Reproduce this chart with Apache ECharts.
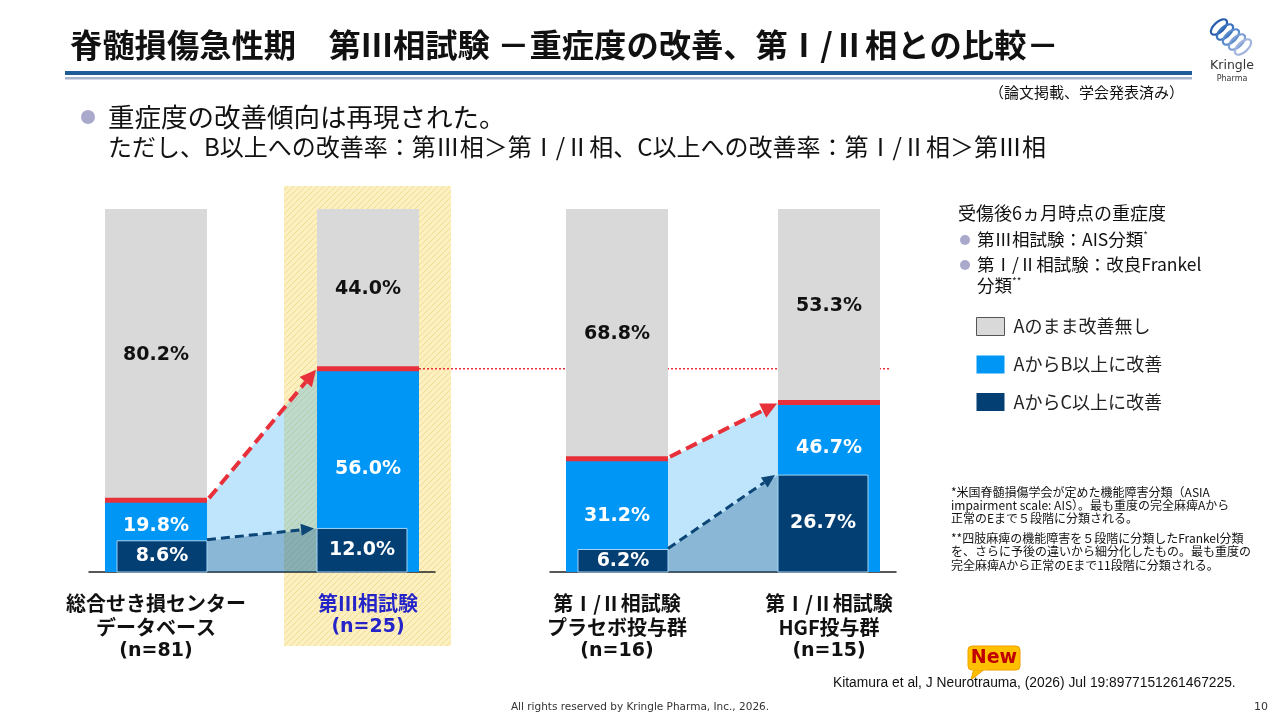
<!DOCTYPE html>
<html>
<head>
<meta charset="UTF-8">
<title>脊髄損傷急性期 第Ⅲ相試験 重症度の改善</title>
<style>
    html, body { margin: 0; padding: 0; background: #fff; }
    #container { width: 1280px; height: 720px; }
</style>
</head>
<body>
<div id="container"></div>
<script src="https://cdn.jsdelivr.net/npm/echarts@6/dist/echarts.min.js"></script>
<script type="text/javascript">
    // データ
    var categories = ['総合せき損センター\nデータベース\n(n=81)', '第Ⅲ相試験\n(n=25)', '第Ⅰ/Ⅱ相試験\nプラセボ投与群\n(n=16)', '第Ⅰ/Ⅱ相試験\nHGF投与群\n(n=15)'];
    var noImprove = [80.2, 44.0, 68.8, 53.3]; // Aのまま改善無し
    var improveB = [19.8, 56.0, 31.2, 46.7];  // AからB以上に改善
    var improveC = [8.6, 12.0, 6.2, 26.7];    // AからC以上に改善
    var legendNames = ['Aのまま改善無し', 'AからB以上に改善', 'AからC以上に改善'];
    var groups = [[0, 1], [2, 3]];
    var highlightIndex = 1;

    var JP = "'Noto Sans CJK JP', sans-serif";
    var NUM = "'DejaVu Sans', 'Noto Sans CJK JP', sans-serif";
    var GRAY = '#d9d9d9', BLUE = '#0096f5', NAVY = '#033f73', RED = '#e8303a';
    var BAR_W = 102, NAVY_W = 90;
    var X_MIN = -0.316, X_MAX = 1.316;

    function pct(v) { return v.toFixed(1) + '%'; }

    // 黄色の斜線パターン
    var hatch = document.createElement('canvas');
    hatch.width = 6; hatch.height = 6;
    var hc = hatch.getContext('2d');
    hc.fillStyle = '#fdf0c0'; hc.fillRect(0, 0, 6, 6);
    hc.strokeStyle = '#f2dc94'; hc.lineWidth = 1;
    hc.beginPath();
    hc.moveTo(0, 6); hc.lineTo(6, 0);
    hc.moveTo(-1, 1); hc.lineTo(1, -1);
    hc.moveTo(5, 7); hc.lineTo(7, 5);
    hc.stroke();

    function arrow(p0, p1, color, width, dash, headLen, headW) {
        var dx = p1[0] - p0[0], dy = p1[1] - p0[1];
        var len = Math.sqrt(dx * dx + dy * dy);
        var ux = dx / len, uy = dy / len;
        var bx = p1[0] - ux * headLen, by = p1[1] - uy * headLen;
        return [
            { type: 'line', shape: { x1: p0[0], y1: p0[1], x2: bx, y2: by },
              style: { stroke: color, lineWidth: width, lineDash: dash } },
            { type: 'polygon', shape: { points: [[p1[0], p1[1]], [bx - uy * headW, by + ux * headW], [bx + uy * headW, by - ux * headW]] },
              style: { fill: color } }
        ];
    }

    // 棒の間の面と矢印
    function renderBridge(params, api) {
        var b0 = api.value(1), c0 = api.value(2), b1 = api.value(3), c1 = api.value(4);
        var base0 = api.coord([0, 0]), base1 = api.coord([1, 0]);
        var x0 = base0[0] + BAR_W / 2, x1 = base1[0] - BAR_W / 2, y0 = base0[1];
        var yb0 = api.coord([0, b0])[1], yb1 = api.coord([1, b1])[1];
        var yc0 = api.coord([0, c0])[1], yc1 = api.coord([1, c1])[1];
        var children = [
            { type: 'polygon', shape: { points: [[x0, yb0], [x1, yb1], [x1, y0], [x0, y0]] },
              style: { fill: 'rgba(0,150,245,0.25)' } },
            { type: 'polygon', shape: { points: [[x0, yc0], [x1, yc1], [x1, y0], [x0, y0]] },
              style: { fill: 'rgba(0,63,114,0.28)' } }
        ];
        children = children.concat(arrow([x0 + 2, yb0 - 2], [x1 - 1, yb1 + 1], RED, 4, [12, 6], 16, 8));
        children = children.concat(arrow([x0, yc0 - 1], [x1 - 3, yc1], '#0b4677', 3, [9, 5], 13, 6));
        return { type: 'group', children: children };
    }

    // C以上の棒・赤線・数値
    function renderNavy(params, api) {
        var x = api.value(0), c = api.value(1), b = api.value(2), n = api.value(3);
        var base = api.coord([x, 0]), cTop = api.coord([x, c]), bTop = api.coord([x, b]);
        var grayMid = api.coord([x, b + n / 2]);
        var left = x === 0 ? base[0] + BAR_W / 2 - NAVY_W : base[0] - BAR_W / 2;
        var blueLabelY = bTop[1] + 0.63 * (cTop[1] - bTop[1]);
        var font = { fontSize: 19, fontWeight: 'bold', fontFamily: NUM, align: 'center', verticalAlign: 'middle' };
        function label(px, py, text, color) {
            return { type: 'text', x: px, y: py, style: echarts.util.extend({ text: text, fill: color }, font) };
        }
        return { type: 'group', children: [
            { type: 'rect', shape: { x: base[0] - BAR_W / 2, y: bTop[1] - 2.5, width: BAR_W, height: 5 },
              style: { fill: RED } },
            { type: 'rect', shape: { x: left, y: cTop[1], width: NAVY_W, height: base[1] - cTop[1] },
              style: { fill: NAVY, stroke: '#a3d6f7', lineWidth: 1 } },
            label(left + NAVY_W / 2, (cTop[1] + base[1]) / 2, pct(c), '#fff'),
            label(base[0], blueLabelY, pct(b), '#fff'),
            label(grayMid[0], grayMid[1], pct(n), '#111')
        ] };
    }

    function renderHighlight(params, api) {
        var top = api.coord([api.value(0), 100]), base = api.coord([api.value(0), 0]);
        return { type: 'rect', shape: { x: top[0] - 84, y: top[1] - 23, width: 167, height: base[1] - top[1] + 97 },
                 style: { fill: { image: hatch, repeat: 'repeat' } } };
    }

    var labelRich = {
        t: { color: '#111', fontSize: 20, fontWeight: 'bold', lineHeight: 24, fontFamily: JP },
        n: { color: '#111', fontSize: 19, fontWeight: 'bold', lineHeight: 24, fontFamily: NUM },
        ht: { color: '#2424c8', fontSize: 20, fontWeight: 'bold', lineHeight: 24, fontFamily: JP },
        hn: { color: '#2424c8', fontSize: 19, fontWeight: 'bold', lineHeight: 24, fontFamily: NUM }
    };

    var grid = [], xAxis = [], yAxis = [], series = [];
    groups.forEach(function (g, gi) {
        grid.push({ left: gi === 0 ? 89 : 550, top: 209, width: 346, height: 363 });
        xAxis.push({
            type: 'value', gridIndex: gi, min: X_MIN, max: X_MAX,
            axisLine: { show: true, lineStyle: { color: '#222', width: 1.5 } },
            axisTick: { show: false }, splitLine: { show: false },
            axisLabel: {
                customValues: [0, 1], margin: 19,
                fontSize: 20, fontWeight: 'bold', color: '#111', lineHeight: 24, fontFamily: JP,
                formatter: function (v) {
                    var idx = g[Math.round(v)];
                    var pre = idx === highlightIndex ? 'h' : '';
                    var lines = categories[idx].split('\n');
                    return lines.map(function (s, li) {
                        return '{' + pre + (li === lines.length - 1 ? 'n' : 't') + '|' + s + '}';
                    }).join('\n');
                },
                rich: labelRich
            }
        });
        yAxis.push({ type: 'value', gridIndex: gi, min: 0, max: 100, show: false });

        // 灰色の棒は B以上 + 改善無し の上端まで
        series.push({
            name: legendNames[0], type: 'bar', xAxisIndex: gi, yAxisIndex: gi,
            barWidth: BAR_W, barGap: '-100%', itemStyle: { color: GRAY }, z: 2,
            data: g.map(function (i, k) { return [k, improveB[i] + noImprove[i]]; })
        });
        series.push({
            name: legendNames[1], type: 'bar', xAxisIndex: gi, yAxisIndex: gi,
            barWidth: BAR_W, barGap: '-100%', itemStyle: { color: BLUE }, z: 3,
            data: g.map(function (i, k) { return [k, improveB[i]]; })
        });
        series.push({
            type: 'custom', xAxisIndex: gi, yAxisIndex: gi, z: 4, silent: true,
            renderItem: renderBridge,
            data: [[0, improveB[g[0]], improveC[g[0]], improveB[g[1]], improveC[g[1]]]]
        });
        series.push({
            name: legendNames[2], type: 'custom', xAxisIndex: gi, yAxisIndex: gi, z: 5,
            itemStyle: { color: NAVY }, renderItem: renderNavy,
            data: g.map(function (i, k) { return [k, improveC[i], improveB[i], noImprove[i]]; })
        });
        var h = g.indexOf(highlightIndex);
        if (h >= 0) {
            series.push({
                type: 'custom', xAxisIndex: gi, yAxisIndex: gi, z: 0, silent: true,
                renderItem: renderHighlight, data: [[h]]
            });
        }
    });

    var myChart = echarts.init(document.getElementById('container'));
    myChart.setOption({
        animation: false,
        grid: grid, xAxis: xAxis, yAxis: yAxis, series: series,
        legend: {
            orient: 'vertical', left: 971, top: 312, itemWidth: 28, itemHeight: 18, itemGap: 19.5,
            icon: 'rect', selectedMode: false,
            data: [{ name: legendNames[0], itemStyle: { borderColor: '#555', borderWidth: 1 } }, legendNames[1], legendNames[2]],
            textStyle: { fontFamily: JP, fontSize: 18, color: '#222', padding: [0, 0, 0, 4] }
        }
    });

    // 第Ⅲ相のB以上の高さを示す点線
    var lineFrom = myChart.convertToPixel({ gridIndex: 0 }, [1, improveB[highlightIndex]]);
    var lineTo = myChart.convertToPixel({ gridIndex: 1 }, [1, improveB[highlightIndex]]);

    function txt(x, y, text, size, opts) {
        opts = opts || {};
        return { type: 'text', x: x, y: y, z: 10, style: {
            text: text, fontSize: size, fontFamily: opts.family || JP, fontWeight: opts.weight || 'normal',
            fill: opts.color || '#111', align: opts.align || 'left', verticalAlign: 'middle', rich: opts.rich
        } };
    }

    var sup = { sup: { fontSize: 10, verticalAlign: 'top', fontFamily: JP, fill: '#222', padding: [0, 0, 8, 0] } };
    var logoColors = ['#2a5fae', '#3a74be', '#5a8bcb', '#7d9fd5', '#a3b5df'];
    var graphic = [
        { type: 'line', z: 1, shape: { x1: lineFrom[0] + BAR_W / 2, y1: lineFrom[1], x2: lineTo[0] + BAR_W / 2 + 10, y2: lineFrom[1] },
          style: { stroke: RED, lineWidth: 1.5, lineDash: [2, 2] } },
        txt(70, 45, '脊髄損傷急性期　第Ⅲ相試験 －重症度の改善、第Ⅰ/Ⅱ相との比較－', 32.3, { weight: 'bold' }),
        { type: 'rect', shape: { x: 65, y: 71, width: 1127, height: 4 }, style: { fill: '#1f5b96' } },
        { type: 'rect', shape: { x: 65, y: 77, width: 1127, height: 2.5 }, style: { fill: '#a8b3cd' } },
        txt(1184, 92, '（論文掲載、学会発表済み）', 15, { align: 'right' }),
        { type: 'circle', shape: { cx: 88, cy: 117, r: 7 }, style: { fill: '#a9a9cc' } },
        txt(108, 117, '重症度の改善傾向は再現された。', 26.5),
        txt(108, 147, 'ただし、B以上への改善率：第Ⅲ相＞第Ⅰ/Ⅱ相、C以上への改善率：第Ⅰ/Ⅱ相＞第Ⅲ相', 24),
        txt(958, 213, '受傷後6ヵ月時点の重症度', 18),
        { type: 'circle', shape: { cx: 965, cy: 240, r: 5 }, style: { fill: '#a9a9cc' } },
        txt(977, 239, '第Ⅲ相試験：AIS分類{sup|*}', 17.5, { rich: sup }),
        { type: 'circle', shape: { cx: 965, cy: 265, r: 5 }, style: { fill: '#a9a9cc' } },
        txt(977, 264, '第Ⅰ/Ⅱ相試験：改良Frankel', 17.5),
        txt(977, 285, '分類{sup|**}', 17.5, { rich: sup }),
        txt(951, 492, '*米国脊髄損傷学会が定めた機能障害分類（ASIA', 12),
        txt(951, 505, 'impairment scale: AIS）。最も重度の完全麻痺Aから', 12),
        txt(951, 518, '正常のEまで５段階に分類される。', 12),
        txt(951, 538, '**四肢麻痺の機能障害を５段階に分類したFrankel分類', 12),
        txt(951, 551, 'を、さらに予後の違いから細分化したもの。最も重度の', 12),
        txt(951, 565, '完全麻痺Aから正常のEまで11段階に分類される。', 12),
        { type: 'polygon', z: 10, shape: { points: [[974, 668], [986, 668], [971, 680]] }, style: { fill: '#ffbf00', stroke: '#f0a000', lineWidth: 1 } },
        { type: 'rect', z: 10, shape: { x: 968, y: 646, width: 52, height: 24, r: 4 }, style: { fill: '#ffc000', stroke: '#f0a000', lineWidth: 1 } },
        { type: 'rect', z: 11, shape: { x: 972, y: 667, width: 14, height: 3 }, style: { fill: '#ffc000' } },
        txt(994, 658, 'New', 19, { weight: 'bold', color: '#c00000', align: 'center', family: NUM }),
        txt(833, 683, 'Kitamura et al, J Neurotrauma, (2026) Jul 19:8977151261467225.', 13.8, { family: "'Liberation Sans', sans-serif" }),
        txt(640, 707, 'All rights reserved by Kringle Pharma, Inc., 2026.', 10.5, { align: 'center', color: '#333', family: NUM }),
        txt(1268, 707, '10', 11, { align: 'right', color: '#333', family: NUM }),
        txt(1232, 66, 'Kringle', 12.5, { align: 'center', color: '#333', family: NUM }),
        txt(1232, 79, 'Pharma', 8, { align: 'center', color: '#333', family: NUM })
    ];
    logoColors.forEach(function (c, k) {
        graphic.push({ type: 'ellipse', z: 10, shape: { cx: 0, cy: 0, rx: 10, ry: 5 }, x: 1219 + k * 6, y: 27 + k * 5,
                       rotation: 0.75, style: { fill: 'none', stroke: c, lineWidth: 2.2 } });
    });
    myChart.setOption({ graphic: graphic });
</script>
</body>
</html>
